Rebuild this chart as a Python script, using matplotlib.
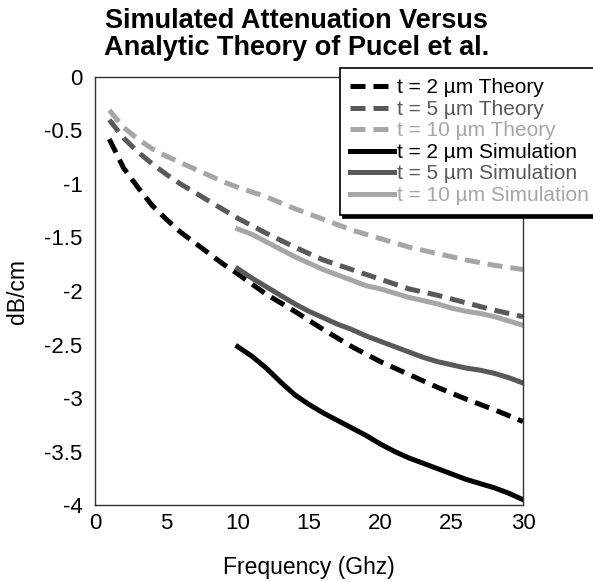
import numpy as np
import matplotlib
matplotlib.use("Agg")
import matplotlib.pyplot as plt

plt.rcParams['font.family'] = ['Liberation Sans', 'DejaVu Sans']

# -- theory curves (Pucel et al.), 1..30 GHz --
f_theory = [1, 2, 3, 4, 5, 6, 7, 8, 9, 10, 12, 14, 16, 18, 20, 22, 24, 26, 28, 30]
theory_2um = [-0.58, -0.85, -1.03, -1.20, -1.33, -1.45, -1.55, -1.65, -1.75, -1.84,
              -2.03, -2.19, -2.36, -2.52, -2.66, -2.78, -2.90, -3.01, -3.11, -3.22]
theory_5um = [-0.40, -0.57, -0.70, -0.81, -0.91, -1.00, -1.08, -1.16, -1.24, -1.32,
              -1.46, -1.59, -1.71, -1.80, -1.89, -1.98, -2.04, -2.11, -2.18, -2.24]
theory_10um = [-0.31, -0.47, -0.58, -0.67, -0.74, -0.80, -0.86, -0.92, -0.98, -1.03,
               -1.12, -1.23, -1.33, -1.43, -1.51, -1.59, -1.65, -1.71, -1.76, -1.80]

# -- simulated curves, 10..30 GHz --
f_sim = list(range(10, 31))
sim_2um = [-2.52, -2.61, -2.72, -2.85, -2.97, -3.06, -3.14, -3.21, -3.28, -3.35, -3.43,
           -3.50, -3.56, -3.61, -3.66, -3.71, -3.76, -3.80, -3.84, -3.89, -3.95]
sim_5um = [-1.79, -1.88, -1.96, -2.04, -2.12, -2.19, -2.25, -2.31, -2.36, -2.42, -2.47,
           -2.52, -2.57, -2.62, -2.66, -2.69, -2.72, -2.74, -2.77, -2.81, -2.86]
sim_10um = [-1.42, -1.47, -1.54, -1.61, -1.68, -1.74, -1.80, -1.85, -1.90, -1.95, -1.98,
            -2.02, -2.06, -2.09, -2.12, -2.16, -2.19, -2.21, -2.24, -2.28, -2.32]

labels = ['t = 2 \u00b5m Theory', 't = 5 \u00b5m Theory', 't = 10 \u00b5m Theory',
          't = 2 \u00b5m Simulation', 't = 5 \u00b5m Simulation', 't = 10 \u00b5m Simulation']
colors = ['#000000', '#595959', '#a6a6a6']

fig = plt.figure(figsize=(5.93, 5.82), dpi=100)
ax = fig.add_axes([0.1602, 0.1323, 0.7218, 0.7354])

lw = 3.6
for y, c, lab in zip([theory_2um, theory_5um, theory_10um], colors, labels[:3]):
    ax.plot(f_theory, y, color=c, lw=lw, ls=(0, (3, 1.6)), label=lab)
for y, c, lab in zip([sim_2um, sim_5um, sim_10um], colors, labels[3:]):
    ax.plot(f_sim, y, color=c, lw=lw, label=lab, solid_joinstyle='round')

ax.set_xlim(0, 30)
ax.set_ylim(-4, 0)
ax.set_xticks(np.arange(0, 31, 5))
ax.set_yticks(np.arange(-4, 0.01, 0.5))
ax.set_yticklabels(['-4', '-3.5', '-3', '-2.5', '-2', '-1.5', '-1', '-0.5', '0'])
ax.tick_params(length=0, labelsize=16)
ax.tick_params(axis='x', pad=5.5)
ax.tick_params(axis='y', pad=9)
for s in ax.spines.values():
    s.set_color('#333333')
    s.set_linewidth(1.0)

ax.set_xlabel('Frequency (Ghz)', fontsize=16.5)
ax.set_ylabel('dB/cm', fontsize=16.5)
ax.xaxis.set_label_coords(0.5, -0.12)
ax.yaxis.set_label_coords(-0.155, 0.5)

fig.suptitle('Simulated Attenuation Versus\nAnalytic Theory of Pucel et al.',
             fontsize=19.5, fontweight='bold', x=0.5, y=0.987, linespacing=1.05)

leg = fig.legend(loc='upper left', bbox_to_anchor=(340 / 593, 1 - 68 / 582),
                 fontsize=15, handlelength=2.1, handletextpad=0.15,
                 labelspacing=0.12, borderpad=0.5, borderaxespad=0,
                 fancybox=False, labelcolor='linecolor',
                 shadow={'color': 'black', 'alpha': 1})
leg.get_frame().set_edgecolor('black')
leg.get_frame().set_linewidth(1.2)

fig.savefig('out.png', dpi=100)
